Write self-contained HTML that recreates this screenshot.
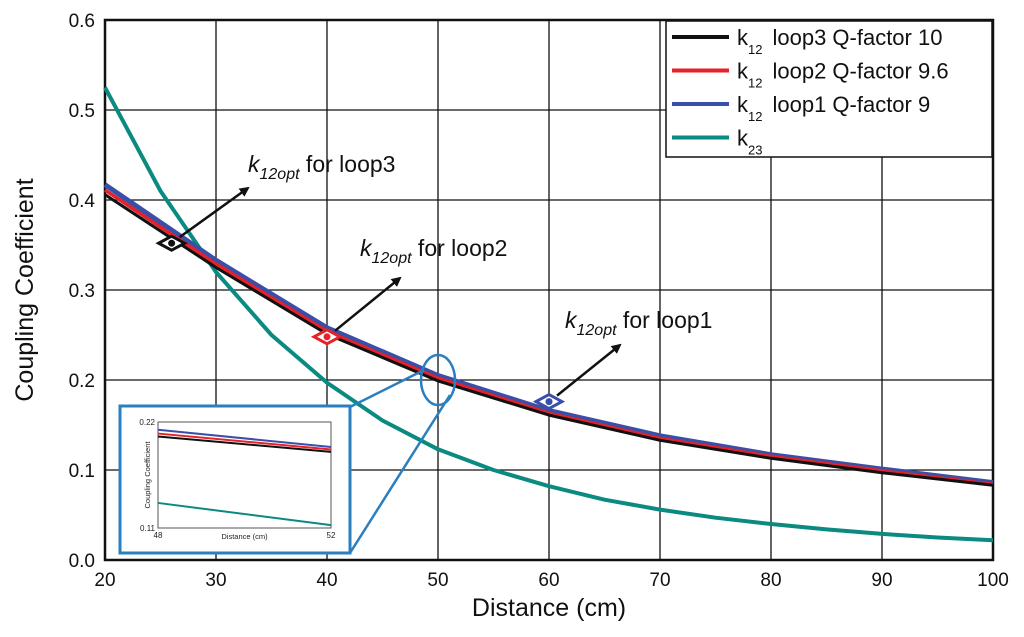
<!DOCTYPE html>
<html><head><meta charset="utf-8"><style>
body{margin:0;background:#fff;}
svg{display:block;font-family:"Liberation Sans",Arial,sans-serif;}
</style></head><body>
<svg id="c" width="1024" height="637" viewBox="0 0 1024 637"></svg>
<script>
const distances=[20,30,40,50,60,70,80,90,100];
const loop3=[0.406,0.325,0.251,0.199,0.161,0.133,0.113,0.097,0.083];
const loop2=[0.411,0.329,0.254,0.202,0.163,0.135,0.115,0.099,0.084];
const loop1=[0.417,0.333,0.258,0.205,0.166,0.138,0.117,0.101,0.086];
const k23Dist=[20,25,30,35,40,45,50,55,60,65,70,75,80,85,90,95,100];
const k23=[0.525,0.41,0.32,0.25,0.197,0.155,0.123,0.1,0.082,0.067,0.056,0.047,0.04,0.034,0.029,0.025,0.022];
const xTicks=[20,30,40,50,60,70,80,90,100];
const yTicks=[0.0,0.1,0.2,0.3,0.4,0.5,0.6];
const insetDist=[48,52];
const insetLoop1=[0.212,0.194];
const insetLoop2=[0.208,0.1915];
const insetLoop3=[0.205,0.189];
const insetK23=[0.136,0.113];
const optD=[26,40,60];
const optK=[0.352,0.248,0.176];

const NS="http://www.w3.org/2000/svg";
const svg=document.getElementById('c');
function mk(t,a,p){const e=document.createElementNS(NS,t);for(const k in a)e.setAttribute(k,a[k]);(p||svg).appendChild(e);return e;}
const L=105,R=993,T=20,B=560;
const X=v=>L+(v-20)/80*(R-L);
const Y=v=>B-v/0.6*(B-T);

mk('defs',{}).innerHTML='<marker id="ah" markerWidth="10" markerHeight="10" refX="8" refY="5" orient="auto" markerUnits="userSpaceOnUse"><path d="M0,0 L10,5 L0,10 z" fill="#111"/></marker>';

xTicks.forEach(v=>{const l=mk('line',{x1:X(v),x2:X(v),y1:T,y2:B,stroke:'#111','stroke-width':1.3});

const t=mk('text',{x:X(v),y:B+26,'font-size':19,'text-anchor':'middle',fill:'#111'});t.textContent=v;
});
yTicks.forEach(v=>{const l=mk('line',{x1:L,x2:R,y1:Y(v),y2:Y(v),stroke:'#111','stroke-width':1.3});

const t=mk('text',{x:L-10,y:Y(v)+7,'font-size':19,'text-anchor':'end',fill:'#111'});t.textContent=v.toFixed(1);
});
const fr=mk('rect',{x:L,y:T,width:R-L,height:B-T,fill:'none',stroke:'#111','stroke-width':2.5});


function line(xs,ys,col,w,fx,fy,name){const p=mk('polyline',{points:xs.map((x,i)=>fx(x)+','+fy(ys[i])).join(' '),fill:'none',stroke:col,'stroke-width':w,'stroke-linejoin':'round'});
return p;}
line(k23Dist,k23,'#0a8a80',4,X,Y,'k23-line');
line(distances,loop1,'#3a4fa8',5,X,Y,'loop1-line');
line(distances,loop2,'#e5222a',3.5,X,Y,'loop2-line');
line(distances,loop3,'#111',3,X,Y,'loop3-line');

const mcol=['#111','#e5222a','#3a4fa8'];
const labels=['loop3','loop2','loop1'];
const arrowEnd=[[248,188],[400,278],[620,345]];
const labPos=[[248,172],[360,256],[565,328]];
optD.forEach((d,i)=>{const cx=X(d),cy=Y(optK[i]);
const dm=mk('polygon',{points:`${cx-13},${cy} ${cx},${cy-7} ${cx+13},${cy} ${cx},${cy+7}`,fill:'#fff',stroke:mcol[i],'stroke-width':3});

mk('circle',{cx:cx,cy:cy,r:3.5,fill:mcol[i]});
const a=mk('line',{x1:cx+8,y1:cy-6,x2:arrowEnd[i][0],y2:arrowEnd[i][1],stroke:'#111','stroke-width':2.5,'marker-end':'url(#ah)'});

const t=mk('text',{x:labPos[i][0],y:labPos[i][1],'font-size':23,fill:'#111'});
t.innerHTML='<tspan font-style="italic">k</tspan><tspan font-style="italic" font-size="16" dy="7">12opt</tspan><tspan dy="-7"> for loop'+(3-i)+'</tspan>';
});

const el=mk('ellipse',{cx:438,cy:380,rx:17,ry:25,fill:'none',stroke:'#2a7fc0','stroke-width':2.5});

mk('line',{x1:424,y1:370,x2:350,y2:407,stroke:'#2a7fc0','stroke-width':2.5});
mk('line',{x1:450,y1:395,x2:350,y2:553,stroke:'#2a7fc0','stroke-width':2.5});

const ib=mk('rect',{x:120,y:406,width:230,height:147,fill:'#fff',stroke:'#2a7fc0','stroke-width':3});

const iL=158,iR=331,iT=422,iB=528;
const IX=v=>iL+(v-48)/4*(iR-iL), IY=v=>iB-(v-0.11)/0.11*(iB-iT);
mk('rect',{x:iL,y:iT,width:iR-iL,height:iB-iT,fill:'none',stroke:'#555','stroke-width':1});
line(insetDist,insetK23,'#0a8a80',2,IX,IY,'inset-k23-line');
line(insetDist,insetLoop1,'#3a4fa8',2,IX,IY,'inset-loop1-line');
line(insetDist,insetLoop2,'#e5222a',2,IX,IY,'inset-loop2-line');
line(insetDist,insetLoop3,'#111',2,IX,IY,'inset-loop3-line');
[['0.22',iT],['0.11',iB]].forEach(([s,y])=>{const t=mk('text',{x:iL-3,y:y+3,'font-size':8,'text-anchor':'end',fill:'#222'});t.textContent=s;
});
[['48',iL],['52',iR]].forEach(([s,x])=>{const t=mk('text',{x:x,y:iB+10,'font-size':8,'text-anchor':'middle',fill:'#222'});t.textContent=s;
});
let t=mk('text',{x:(iL+iR)/2,y:iB+11,'font-size':7.5,'text-anchor':'middle',fill:'#222'});t.textContent='Distance (cm)';

t=mk('text',{x:0,y:0,'font-size':7.5,'text-anchor':'middle',fill:'#222',transform:`translate(${iL-8},${(iT+iB)/2}) rotate(-90)`});t.textContent='Coupling Coefficient';


const lg=mk('g',{});
mk('rect',{x:666,y:21,width:326,height:136,fill:'#fff',stroke:'#111','stroke-width':1.5},lg);
const lc=['#111','#e5222a','#3a4fa8','#0a8a80'];
const lt=['loop3 Q-factor 10','loop2 Q-factor 9.6','loop1 Q-factor 9',''];
const ls=['12','12','12','23'];
lc.forEach((c,i)=>{const y=37+i*33.5;
const e=mk('line',{x1:672,x2:729,y1:y,y2:y,stroke:c,'stroke-width':4},lg);

const tx=mk('text',{x:737,y:y+8,'font-size':22,fill:'#111'},lg);
tx.innerHTML='k<tspan font-size="13" dy="9">'+ls[i]+'</tspan><tspan dy="-9" dx="10">'+lt[i]+'</tspan>';
});

t=mk('text',{x:549,y:616,'font-size':25,'text-anchor':'middle',fill:'#111'});t.textContent='Distance (cm)';

t=mk('text',{x:0,y:0,'font-size':25,'text-anchor':'middle',fill:'#111',transform:'translate(33,290) rotate(-90)'});t.textContent='Coupling Coefficient';

</script>
</body></html>
